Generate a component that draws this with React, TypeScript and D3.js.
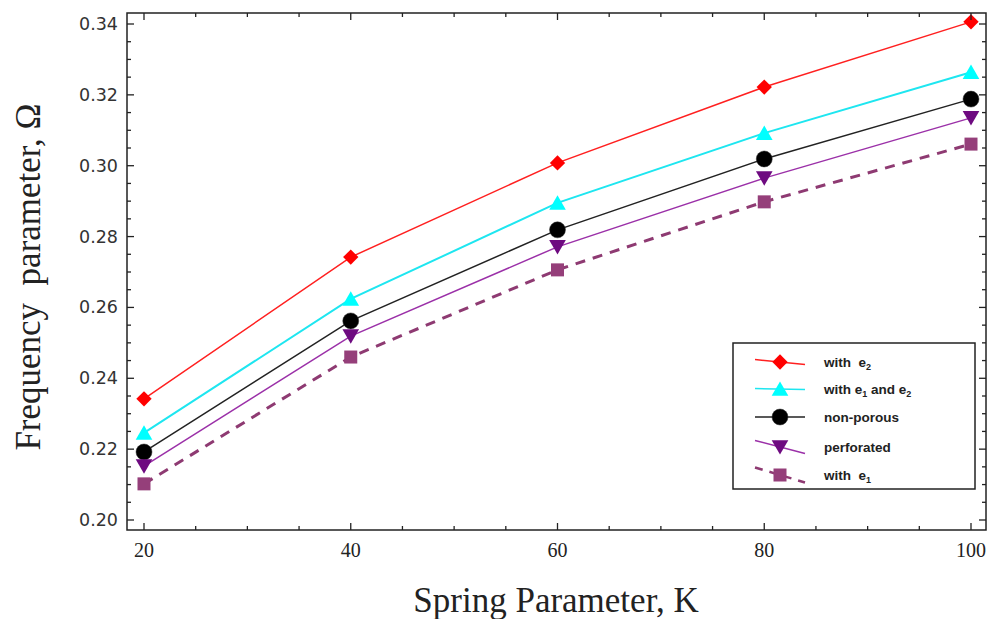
import React from 'react';
import * as d3 from 'd3';

// spring parameter K
const kValues = [20, 40, 60, 80, 100];

// frequency parameter
const withE2 = [0.2342, 0.2742, 0.3008, 0.3222, 0.3406];
const withE1E2 = [0.2246, 0.2624, 0.2895, 0.3092, 0.3264];
const nonPorous = [0.2192, 0.2562, 0.2819, 0.3019, 0.3188];
const perforated = [0.2152, 0.2519, 0.2771, 0.2965, 0.3135];
const withE1 = [0.2102, 0.2460, 0.2706, 0.2898, 0.3061];

const yTicks = [0.2, 0.22, 0.24, 0.26, 0.28, 0.3, 0.32, 0.34];
const xTicks = [20, 40, 60, 80, 100];

type Series = {
  name: string;
  values: number[];
  line: string;
  fill: string;
  width: number;
  dash?: string;
  marker: string;
  tilt: number;
};

const series: Series[] = [
  { name: 'with e2', values: withE2, line: '#ff2020', fill: '#ff0000', width: 1.5, marker: 'diamond', tilt: 5 },
  { name: 'with e1 and e2', values: withE1E2, line: '#1ee6f0', fill: '#00ffff', width: 2, marker: 'triangle', tilt: 1 },
  { name: 'non-porous', values: nonPorous, line: '#222', fill: '#000', width: 1.5, marker: 'circle', tilt: 0 },
  { name: 'perforated', values: perforated, line: '#9b30a8', fill: '#6e0a80', width: 1.5, marker: 'down', tilt: 13 },
  { name: 'with e1', values: withE1, line: '#8e3a72', fill: '#953f7a', width: 3, dash: '10,8', marker: 'square', tilt: 15 },
];

const W = 990;
const H = 619;
const left = 127, right = 986, top = 13, bottom = 530;

const x = d3.scaleLinear().domain([20, 100]).range([144, 971]);
const y = d3.scaleLinear().domain([0.2, 0.34]).range([520, 24]);

function Marker({ kind, cx, cy, fill }: { kind: string; cx: number; cy: number; fill: string }) {
  const t = `translate(${cx},${cy})`;
  if (kind === 'diamond') return <path transform={t} d={d3.symbol(d3.symbolDiamond2, 150)()!} fill={fill} />;
  if (kind === 'triangle') return <path transform={`${t} translate(0,2)`} d={d3.symbol(d3.symbolTriangle, 120)()!} fill={fill} />;
  if (kind === 'down') return <path transform={`${t} rotate(180) translate(0,2)`} d={d3.symbol(d3.symbolTriangle, 120)()!} fill={fill} />;
  if (kind === 'circle') return <circle cx={cx} cy={cy} r={8} fill={fill} stroke="#333" strokeWidth={0.5} />;
  return <rect x={cx - 6.5} y={cy - 6.5} width={13} height={13} fill={fill} />;
}

function LegendLabel({ name }: { name: string }) {
  const sub = (s: string) => (
    <tspan fontSize={9} dy={3}>{s}</tspan>
  );
  if (name === 'with e2') return <>with  e{sub('2')}</>;
  if (name === 'with e1') return <>with  e{sub('1')}</>;
  if (name === 'with e1 and e2')
    return <>with e{sub('1')}<tspan dy={-3}> and e</tspan>{sub('2')}</>;
  return <>{name}</>;
}

export default function App() {
  const line = d3.line<number>().x((_, i) => x(kValues[i])).y(d => y(d));
  const xMinor = d3.range(20, 101, 5);
  const yMinor = d3.range(0, 29).map(i => 0.2 + i * 0.005);

  const legendRows = [362, 389, 417, 447, 475];

  return (
    <svg width={W} height={H} style={{ position: 'absolute', left: 0, top: 0, background: '#fff' }}>
      {/* series lines */}
      {series.map(s => (
        <path key={s.name} d={line(s.values)!} fill="none" stroke={s.line} strokeWidth={s.width}
          strokeDasharray={s.dash} />
      ))}
      {series.map(s => s.values.map((v, i) => (
        <Marker key={s.name + i} kind={s.marker} cx={x(kValues[i])} cy={y(v)} fill={s.fill} />
      )))}

      {/* frame */}
      <rect x={left} y={top} width={right - left} height={bottom - top} fill="none" stroke="#222" strokeWidth={1.5} />

      {/* ticks, inward on all sides */}
      {xMinor.map(k => {
        const major = k % 20 === 0;
        const len = major ? 7 : 4;
        return (
          <g key={'xt' + k} stroke="#222" strokeWidth={1.3}>
            <line x1={x(k)} x2={x(k)} y1={bottom} y2={bottom - len} />
            <line x1={x(k)} x2={x(k)} y1={top} y2={top + len} />
          </g>
        );
      })}
      {yMinor.map((v, i) => {
        const major = i % 4 === 0;
        const len = major ? 7 : 4;
        return (
          <g key={'yt' + i} stroke="#222" strokeWidth={1.3}>
            <line x1={left} x2={left + len} y1={y(v)} y2={y(v)} />
            <line x1={right} x2={right - len} y1={y(v)} y2={y(v)} />
          </g>
        );
      })}

      {/* tick labels */}
      {yTicks.map(v => (
        <text key={'yl' + v} x={118} y={y(v) + 6} textAnchor="end" fontFamily="DejaVu Sans, sans-serif"
          fontSize={17.5} fill="#333">{d3.format('.2f')(v)}</text>
      ))}
      {xTicks.map(k => (
        <text key={'xl' + k} x={x(k)} y={557} textAnchor="middle" fontFamily="Liberation Serif, serif"
          fontSize={20} fill="#222">{k}</text>
      ))}

      {/* axis titles */}
      <text transform="translate(40,277) rotate(-90)" textAnchor="middle" fontFamily="Liberation Serif, serif"
        fontSize={35} fill="#222" style={{ whiteSpace: 'pre' }}>Frequency  parameter, Ω</text>
      <text x={556} y={612} textAnchor="middle" fontFamily="Liberation Serif, serif" fontSize={35} fill="#222">
        Spring Parameter, K
      </text>

      {/* legend */}
      <rect x={733} y={343} width={242} height={146} fill="#fff" stroke="#222" strokeWidth={1.5} />
      {series.map((s, i) => {
        const ly = legendRows[i];
        return (
          <g key={'lg' + s.name}>
            <line x1={755} x2={805} y1={ly - s.tilt / 2} y2={ly + s.tilt / 2} stroke={s.line}
              strokeWidth={s.width === 3 ? 2.5 : 1.5} strokeDasharray={s.dash ? '8,7' : undefined} />
            <Marker kind={s.marker} cx={780} cy={ly} fill={s.fill} />
            <text x={824} y={ly + 5} fontFamily="Liberation Sans, Arial, sans-serif" fontWeight="bold"
              fontSize={13.5} fill="#222" style={{ whiteSpace: 'pre' }}>
              <LegendLabel name={s.name} />
            </text>
          </g>
        );
      })}
    </svg>
  );
}
